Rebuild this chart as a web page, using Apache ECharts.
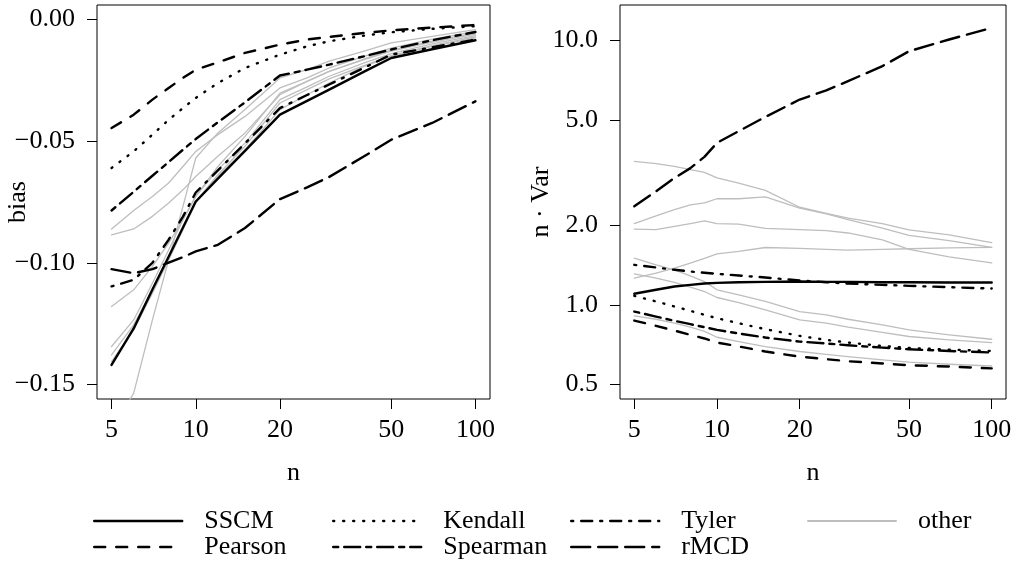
<!DOCTYPE html>
<html>
<head>
<meta charset="utf-8">
<script src="https://cdn.jsdelivr.net/npm/echarts@6.0.0/dist/echarts.min.js"></script>
<style>
  html, body { margin: 0; padding: 0; background: #fff; }
  #chart { width: 1021px; height: 562px; }
</style>
</head>
<body>
<div id="chart"></div>
<script>
// sample sizes (x axis, log scale) and tick labels
const nValues = [5, 6, 7, 8, 9, 10, 12, 15, 20, 25, 30, 40, 50, 70, 100]
const xTicks = [5, 10, 20, 50, 100]
const biasTicks = [0, -0.05, -0.1, -0.15]
const varTicks = [0.5, 1, 2, 5, 10]

// left panel: bias
const biasSSCM = [-0.142, -0.127, -0.111, -0.0975, -0.0855, -0.0748, -0.0654, -0.054, -0.0391, -0.0334, -0.0288, -0.0214, -0.0158, -0.0122, -0.0085]
const biasPearson = [-0.0446, -0.0391, -0.0329, -0.0281, -0.024, -0.0206, -0.0176, -0.0137, -0.0103, -0.0082, -0.0071, -0.0055, -0.0044, -0.0033, -0.0022]
const biasKendall = [-0.061, -0.0542, -0.0473, -0.0412, -0.0364, -0.0322, -0.0261, -0.0199, -0.0144, -0.011, -0.0089, -0.0066, -0.0052, -0.0038, -0.0027]
const biasSpearman = [-0.0785, -0.0708, -0.0642, -0.0586, -0.0535, -0.0491, -0.0422, -0.034, -0.023, -0.0206, -0.0185, -0.0151, -0.0123, -0.0085, -0.0051]
const biasTyler = [-0.1097, -0.107, -0.1, -0.0905, -0.081, -0.0711, -0.062, -0.0509, -0.0364, -0.031, -0.0267, -0.0198, -0.0144, -0.0114, -0.0082]
const biasRMCD = [-0.1026, -0.1043, -0.1026, -0.0999, -0.0977, -0.0953, -0.0926, -0.0857, -0.0738, -0.069, -0.0647, -0.0562, -0.0494, -0.0425, -0.0336]
const biasOther = [
  [-0.0861, -0.0785, -0.0727, -0.0672, -0.0604, -0.0542, -0.0473, -0.0398, -0.0281, -0.024, -0.0199, -0.0151, -0.0117, -0.008, -0.0048],
  [-0.0885, -0.0861, -0.0809, -0.0754, -0.07, -0.0645, -0.0562, -0.0466, -0.0309, -0.0254, -0.0213, -0.0162, -0.0126, -0.0089, -0.0055],
  [-0.118, -0.1111, -0.1015, -0.0919, -0.0823, -0.0727, -0.0617, -0.0508, -0.0329, -0.0277, -0.0233, -0.0178, -0.014, -0.01, -0.0066],
  [-0.1344, -0.1235, -0.1084, -0.0947, -0.0823, -0.0727, -0.0604, -0.048, -0.0302, -0.0254, -0.0213, -0.0165, -0.013, -0.0093, -0.006],
  [-0.1379, -0.1255, -0.1111, -0.0974, -0.0857, -0.0748, -0.0638, -0.0521, -0.0343, -0.0288, -0.0244, -0.0189, -0.0148, -0.0107, -0.0071],
  [-0.1687, -0.1536, -0.1235, -0.0988, -0.0768, -0.0569, -0.0466, -0.037, -0.024, -0.0206, -0.0171, -0.013, -0.0096, -0.0069, -0.0041],
  [-0.1406, -0.1276, -0.1125, -0.0988, -0.0864, -0.0754, -0.0645, -0.0535, -0.037, -0.0309, -0.0261, -0.0192, -0.0151, -0.011, -0.0075],
]

// right panel: n * Var (log scale)
const varSSCM = [1.101, 1.14, 1.173, 1.19, 1.204, 1.211, 1.218, 1.222, 1.226, 1.222, 1.222, 1.218, 1.218, 1.215, 1.215]
const varPearson = [0.872, 0.833, 0.799, 0.77, 0.746, 0.72, 0.696, 0.666, 0.637, 0.623, 0.612, 0.6, 0.591, 0.584, 0.575]
const varKendall = [1.081, 1.03, 0.986, 0.949, 0.917, 0.89, 0.852, 0.809, 0.763, 0.737, 0.72, 0.699, 0.687, 0.677, 0.669]
const varSpearman = [0.943, 0.903, 0.87, 0.845, 0.823, 0.804, 0.779, 0.752, 0.726, 0.714, 0.703, 0.689, 0.679, 0.669, 0.66]
const varTyler = [1.417, 1.385, 1.357, 1.337, 1.322, 1.31, 1.291, 1.269, 1.236, 1.218, 1.204, 1.19, 1.18, 1.166, 1.153]
const varRMCD = [2.36, 2.69, 3.02, 3.29, 3.63, 4.1, 4.54, 5.14, 5.98, 6.48, 7.02, 8.0, 9.11, 10.09, 11.17]
const varOther = [
  [3.49, 3.42, 3.34, 3.25, 3.17, 3.02, 2.89, 2.71, 2.34, 2.22, 2.13, 2.03, 1.92, 1.84, 1.72],
  [2.03, 2.17, 2.29, 2.39, 2.43, 2.52, 2.52, 2.56, 2.32, 2.21, 2.1, 1.95, 1.83, 1.75, 1.65],
  [1.935, 1.925, 1.98, 2.03, 2.08, 2.03, 2.02, 1.946, 1.925, 1.91, 1.87, 1.76, 1.62, 1.52, 1.44],
  [1.262, 1.318, 1.377, 1.438, 1.498, 1.56, 1.592, 1.648, 1.635, 1.62, 1.61, 1.62, 1.63, 1.643, 1.65],
  [1.502, 1.417, 1.357, 1.288, 1.225, 1.14, 1.091, 1.03, 0.943, 0.916, 0.882, 0.84, 0.804, 0.77, 0.741],
  [1.31, 1.262, 1.215, 1.167, 1.123, 1.066, 1.02, 0.957, 0.877, 0.852, 0.823, 0.786, 0.759, 0.737, 0.72],
  [0.909, 0.882, 0.852, 0.823, 0.793, 0.754, 0.726, 0.695, 0.666, 0.65, 0.637, 0.619, 0.607, 0.596, 0.587],
]

const font = 'Liberation Serif'
const black = '#000000'
const gray = '#bebebe'
const blackWidth = 2.4

// R-like line types
const dashes = {
  SSCM: 'solid',
  Pearson: [11, 11],
  Kendall: [1, 9],
  Spearman: [5, 6, 16, 6],
  Tyler: [2, 8, 11, 8],
  rMCD: [19, 8],
}

const log10 = Math.log10
// R pads the range by 4% on each side
const pad = (lo, hi) => [lo - 0.04 * (hi - lo), hi + 0.04 * (hi - lo)]
const xRange = pad(log10(5), log10(100))
const biasRange = pad(-0.15, 0)
const varRange = pad(log10(0.5), log10(12))

const textStyle = { fontFamily: font, fontSize: 26, color: black }

const makeX = (gridIndex) => ({
  type: 'value',
  gridIndex,
  min: xRange[0],
  max: xRange[1],
  axisLine: { show: false, onZero: false },
  splitLine: { show: false },
  axisTick: { show: true, length: 10, customValues: xTicks.map(log10), lineStyle: { color: black, width: 1 } },
  axisLabel: {
    ...textStyle,
    margin: 18,
    customValues: xTicks.map(log10),
    formatter: (v) => String(Math.round(Math.pow(10, v))),
  },
  name: 'n',
  nameLocation: 'middle',
  nameGap: 61,
  nameMoveOverlap: false,
  nameTextStyle: textStyle,
})

const makeY = (gridIndex, range, ticks, formatter, name) => ({
  type: 'value',
  gridIndex,
  min: range[0],
  max: range[1],
  axisLine: { show: false, onZero: false },
  splitLine: { show: false },
  axisTick: { show: true, length: 10, customValues: ticks, lineStyle: { color: black, width: 1 } },
  axisLabel: { ...textStyle, margin: 22, customValues: ticks, formatter },
  name,
  nameLocation: 'middle',
  nameRotate: 90,
  nameGap: 66,
  nameMoveOverlap: false,
  nameTextStyle: textStyle,
})

const makeSeries = (name, values, panel, color, width, type, z) => ({
  type: 'line',
  name,
  xAxisIndex: panel,
  yAxisIndex: panel,
  data: nValues.map((n, i) => [log10(n), panel === 0 ? values[i] : log10(values[i])]),
  symbol: 'none',
  silent: true,
  z,
  lineStyle: { color, width, type, cap: 'round', join: 'round' },
})

const series = []
biasOther.forEach((vals) => series.push(makeSeries('other', vals, 0, gray, 1.3, 'solid', 1)))
varOther.forEach((vals) => series.push(makeSeries('other', vals, 1, gray, 1.3, 'solid', 1)))

const blackLines = [
  ['SSCM', biasSSCM, varSSCM],
  ['Pearson', biasPearson, varPearson],
  ['Kendall', biasKendall, varKendall],
  ['Spearman', biasSpearman, varSpearman],
  ['Tyler', biasTyler, varTyler],
  ['rMCD', biasRMCD, varRMCD],
]
blackLines.forEach(([name, bias, v]) => {
  series.push(makeSeries(name, bias, 0, black, blackWidth, dashes[name], 2))
  series.push(makeSeries(name, v, 1, black, blackWidth, dashes[name], 2))
})

const legendCols = [
  { left: 93, data: ['SSCM', 'Pearson'], width: blackWidth },
  { left: 332, data: ['Kendall', 'Spearman'], width: blackWidth },
  { left: 570, data: ['Tyler', 'rMCD'], width: blackWidth },
  { left: 807, data: ['other'], width: 2 },
]

const legend = legendCols.map((col) => ({
  left: col.left,
  top: 508,
  orient: 'vertical',
  padding: 0,
  itemGap: 0,
  itemWidth: 88,
  itemHeight: 14,
  selectedMode: false,
  data: col.data,
  itemStyle: { opacity: 0 },
  lineStyle: { width: col.width },
  textStyle: { ...textStyle, lineHeight: 25, padding: [0, 0, 0, 17] },
}))

const chart = echarts.init(document.getElementById('chart'))

chart.setOption({
  animation: false,
  backgroundColor: '#ffffff',
  grid: [
    { left: 97, top: 5, width: 393, height: 394, show: true, borderColor: black, borderWidth: 1, containLabel: false, outerBoundsMode: 'none' },
    { left: 620, top: 5, width: 386, height: 394, show: true, borderColor: black, borderWidth: 1, containLabel: false, outerBoundsMode: 'none' },
  ],
  xAxis: [makeX(0), makeX(1)],
  yAxis: [
    makeY(0, biasRange, biasTicks, (v) => (Math.abs(v) < 1e-9 ? '0.00' : (v < 0 ? '\u2212' : '') + Math.abs(v).toFixed(2)), 'bias'),
    makeY(1, varRange, varTicks.map(log10), (v) => Math.pow(10, v).toFixed(1), 'n \u00b7 Var'),
  ],
  legend,
  series,
})
</script>
</body>
</html>
